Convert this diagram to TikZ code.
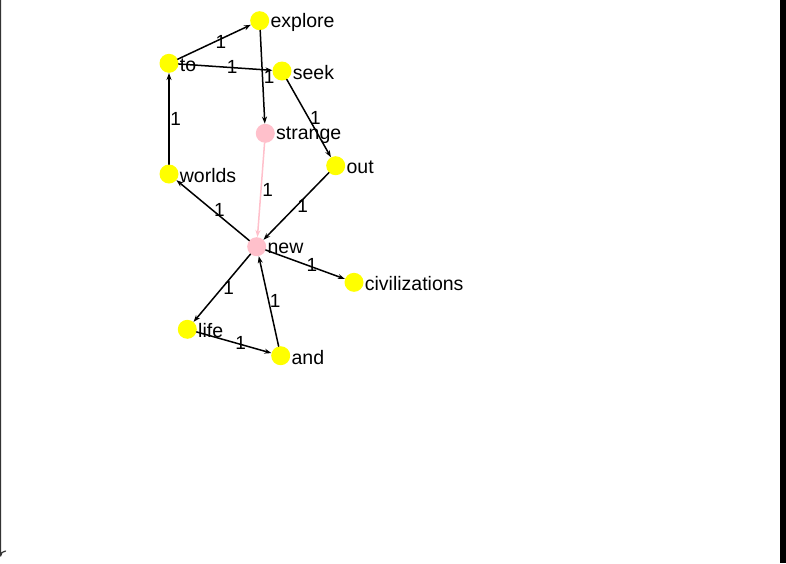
\documentclass[tikz,border=0pt]{standalone}
\usepackage{fontspec}
\setmainfont{Liberation Sans}
\usetikzlibrary{arrows.meta}
\definecolor{wordyellow}{RGB}{255,255,0}
\definecolor{wordpink}{RGB}{255,192,203}
\tikzset{
  word/.style={circle,fill=wordyellow,minimum size=19pt,inner sep=0pt},
  hubword/.style={word,fill=wordpink},
  wlabel/.style={font=\fontsize{19.5}{19.5}\selectfont,inner sep=1pt,yshift=-1.5pt},
  wedge/.style={->,line width=1.5pt},
  wcount/.style={font=\fontsize{19}{19}\selectfont,anchor=west,inner sep=0.5pt}
}

\begin{document}
\begin{tikzpicture}[line cap=round,line join=round,>={Stealth[length=7pt,width=5pt]},x=1pt,y=-1pt]
\useasboundingbox (0,0) rectangle (786,563);
\fill[white] (0,0) rectangle (786,563);
\fill[black] (780,0) rectangle (786,563);
\draw[line width=1.2pt,black!80] (0.6,0)--(0.6,556) arc (180:270:5);
% the words
\node[word,label={[wlabel]right:explore}] (explore) at (259.7,20.7) {};
\node[word,label={[wlabel]right:to}] (to) at (169,63.3) {};
\node[word,label={[wlabel]right:seek}] (seek) at (282,71) {};
\node[hubword,label={[wlabel]right:strange}] (strange) at (265.3,133.3) {};
\node[word,label={[wlabel]right:out}] (out) at (335.7,165.7) {};
\node[word,label={[wlabel]right:worlds}] (worlds) at (169,174) {};
\node[hubword,label={[wlabel]right:new}] (new) at (256.7,246.7) {};
\node[word,label={[wlabel]right:civilizations}] (civilizations) at (354,282.3) {};
\node[word,label={[wlabel]right:life}] (life) at (187.3,329.3) {};
\node[word,label={[wlabel]right:and}] (and) at (280.7,355.7) {};
% the links
\draw[wedge] (to)--(explore) node[wcount,pos=0.5] {1};
\draw[wedge] (to)--(seek) node[wcount,pos=0.5] {1};
\draw[wedge] (explore)--(strange) node[wcount,pos=0.5] {1};
\draw[wedge] (seek)--(out) node[wcount,pos=0.5] {1};
\draw[wedge,color=wordpink] (strange)--(new) node[wcount,pos=0.5,black] {1};
\draw[wedge] (out)--(new) node[wcount,pos=0.5] {1};
\draw[wedge] (new)--(worlds) node[wcount,pos=0.5] {1};
\draw[wedge] (worlds)--(to) node[wcount,pos=0.5] {1};
\draw[wedge] (new)--(civilizations) node[wcount,pos=0.5] {1};
\draw[wedge] (new)--(life) node[wcount,pos=0.5] {1};
\draw[wedge] (life)--(and) node[wcount,pos=0.5] {1};
\draw[wedge] (and)--(new) node[wcount,pos=0.5] {1};
\end{tikzpicture}
\end{document}
